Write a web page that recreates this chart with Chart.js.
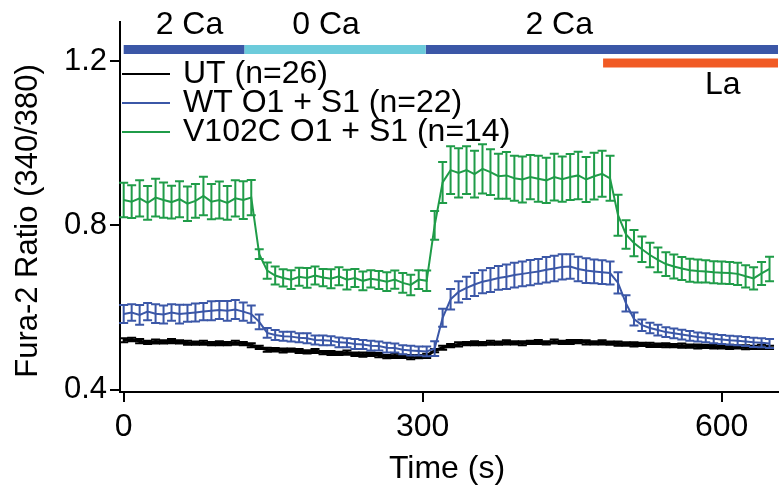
<!DOCTYPE html>
<html>
<head>
<meta charset="utf-8">
<script src="https://cdn.jsdelivr.net/npm/chart.js@4.4.1/dist/chart.umd.min.js"></script>
<style>
  html, body { margin: 0; padding: 0; background: #fff; }
</style>
</head>
<body>
<canvas id="c" width="779" height="493"></canvas>
<script>
// time points (s)
const timeS = [0,8,16,24,32,40,48,56,64,72,80,88,96,104,112,120,128,136,144,152,160,168,176,184,192,200,208,216,224,232,240,248,256,264,272,280,288,296,304,312,320,328,336,344,352,360,368,376,384,392,400,408,416,424,432,440,448,456,464,472,480,488,496,504,512,520,528,536,544,552,560,568,576,584,592,600,608,616,624,632,640,648];

const seriesNames = ['UT (n=26)', 'WT O1 + S1 (n=22)', 'V102C O1 + S1 (n=14)'];

const utMean = [0.520,0.522,0.518,0.515,0.517,0.516,0.518,0.516,0.514,0.513,0.514,0.512,0.513,0.512,0.514,0.512,0.508,0.503,0.497,
  0.497,0.495,0.496,0.494,0.492,0.494,0.490,0.489,0.488,0.490,0.486,0.485,0.486,0.484,0.480,0.482,0.481,0.479,0.480,
  0.482,0.495,0.502,0.507,
  0.510,0.512,0.513,0.512,0.514,0.513,0.515,0.514,0.513,0.515,0.516,0.514,0.517,0.515,0.516,0.517,0.515,0.514,0.515,0.513,
  0.512,0.511,0.510,0.510,0.509,0.508,0.508,0.507,0.507,0.506,0.505,0.505,0.505,0.504,0.504,0.504,0.503,0.503,0.504,0.503];
const utSem = [0.005,0.004,0.005,0.004,0.005,0.004,0.005,0.004,0.005,0.004,0.005,0.004,0.005,0.004,0.005,0.004,0.005,0.004,0.005,
  0.004,0.005,0.004,0.005,0.004,0.005,0.004,0.005,0.004,0.005,0.004,0.005,0.004,0.005,0.004,0.005,0.004,0.005,0.004,
  0.005,0.004,0.005,0.004,
  0.005,0.004,0.005,0.004,0.005,0.004,0.005,0.004,0.005,0.004,0.005,0.004,0.005,0.004,0.005,0.004,0.005,0.004,0.005,0.004,
  0.005,0.004,0.005,0.004,0.005,0.004,0.005,0.004,0.005,0.004,0.005,0.004,0.005,0.004,0.005,0.004,0.005,0.004,0.005,0.004];

const wtMean = [0.584,0.588,0.582,0.590,0.585,0.583,0.588,0.584,0.586,0.588,0.590,0.592,0.594,0.592,0.595,0.590,0.584,0.565,0.538,
  0.533,0.530,0.529,0.526,0.525,0.521,0.520,0.519,0.515,0.514,0.511,0.510,0.507,0.506,0.502,0.501,0.497,0.495,0.494,
  0.493,0.500,0.575,0.620,
  0.638,0.648,0.656,0.663,0.667,0.672,0.675,0.679,0.682,0.685,0.688,0.692,0.695,0.699,0.700,0.694,0.690,0.688,0.686,0.684,
  0.660,0.610,0.572,0.557,0.550,0.545,0.540,0.537,0.534,0.531,0.528,0.526,0.524,0.522,0.520,0.519,0.517,0.515,0.514,0.512];
const wtSem = [0.022,0.020,0.024,0.021,0.023,0.022,0.020,0.023,0.021,0.022,0.021,0.023,0.022,0.024,0.023,0.022,0.021,0.018,0.012,
  0.012,0.011,0.012,0.011,0.012,0.011,0.012,0.011,0.012,0.011,0.012,0.011,0.012,0.011,0.012,0.011,0.011,0.012,0.011,
  0.012,0.018,0.022,0.025,
  0.026,0.027,0.028,0.028,0.029,0.029,0.030,0.030,0.030,0.031,0.030,0.031,0.031,0.031,0.030,0.030,0.030,0.029,0.029,0.028,
  0.026,0.020,0.016,0.014,0.013,0.013,0.012,0.012,0.012,0.012,0.011,0.011,0.011,0.011,0.011,0.011,0.011,0.011,0.011,0.011];

const v102cMean = [0.862,0.858,0.866,0.855,0.868,0.862,0.857,0.864,0.853,0.860,0.872,0.858,0.862,0.855,0.866,0.862,0.868,0.730,0.690,
  0.678,0.672,0.668,0.675,0.672,0.678,0.673,0.670,0.676,0.668,0.672,0.665,0.670,0.667,0.663,0.668,0.660,0.655,0.668,
  0.665,0.800,0.905,0.935,
  0.928,0.935,0.925,0.938,0.930,0.920,0.922,0.915,0.912,0.918,0.914,0.910,0.918,0.913,0.918,0.922,0.912,0.920,0.926,0.915,
  0.825,0.778,0.757,0.742,0.728,0.716,0.706,0.700,0.695,0.691,0.689,0.688,0.686,0.685,0.684,0.682,0.676,0.671,0.683,0.694];
const v102cSem = [0.042,0.040,0.044,0.041,0.046,0.043,0.040,0.044,0.042,0.041,0.047,0.043,0.045,0.041,0.044,0.046,0.043,0.012,0.020,
  0.022,0.021,0.023,0.022,0.024,0.022,0.021,0.023,0.022,0.024,0.022,0.023,0.021,0.022,0.023,0.022,0.024,0.025,0.023,
  0.025,0.035,0.050,0.058,
  0.060,0.058,0.057,0.060,0.056,0.055,0.057,0.055,0.056,0.054,0.056,0.055,0.057,0.055,0.056,0.058,0.055,0.057,0.056,0.055,
  0.050,0.035,0.032,0.031,0.030,0.030,0.029,0.029,0.028,0.028,0.028,0.027,0.027,0.027,0.027,0.027,0.027,0.027,0.028,0.030];

// solution bars on top
const solutionLabels = ['2 Ca', '0 Ca', '2 Ca'];
const solutionStart = [0, 121, 303];
const solutionEnd = [121, 303, 656.5];
const solutionLabelAt = [66, 203, 437];
const solutionLevel = 1.229;
const laStart = 481, laEnd = 656.5, laLevel = 1.196, laLabelAt = 601;

const xTicks = [0, 300, 600];
const yTicks = [0.4, 0.8, 1.2];

const FONT = '"Liberation Sans", Arial, sans-serif';
const BLACK = '#000000', BLUE = '#3b57a7', GREEN = '#1f9c48', CYAN = '#6ccbdb', ORANGE = '#f15a24';
const seriesColors = [BLACK, BLUE, GREEN];

function pts(arr) { return timeS.map((t, i) => ({ x: t, y: arr[i] })); }
function bar(a, b, lvl, color) {
  return { data: [{ x: a, y: lvl }, { x: b, y: lvl }], borderColor: color, borderWidth: 9, borderCapStyle: 'butt', pointRadius: 0, tension: 0 };
}

const errorBars = {
  id: 'errorBars',
  afterDatasetDraw(chart, args) {
    const ds = chart.data.datasets[args.index];
    if (!ds.sem) return;
    const xs = chart.scales.x, ys = chart.scales.y, ctx = chart.ctx;
    ctx.save();
    ctx.strokeStyle = ds.borderColor;
    ctx.lineWidth = 2;
    ds.data.forEach((p, i) => {
      const px = xs.getPixelForValue(p.x);
      const top = ys.getPixelForValue(p.y + ds.sem[i]);
      const bot = ys.getPixelForValue(p.y - ds.sem[i]);
      ctx.beginPath();
      ctx.moveTo(px, top); ctx.lineTo(px, bot);
      ctx.moveTo(px - 4.5, top); ctx.lineTo(px + 4.5, top);
      ctx.moveTo(px - 4.5, bot); ctx.lineTo(px + 4.5, bot);
      ctx.stroke();
    });
    ctx.restore();
  }
};

const annotations = {
  id: 'annotations',
  afterDraw(chart) {
    const ctx = chart.ctx, xs = chart.scales.x, ys = chart.scales.y;
    ctx.save();
    ctx.fillStyle = '#000';
    ctx.font = '32px ' + FONT;
    ctx.textAlign = 'center';
    ctx.textBaseline = 'alphabetic';
    const barY = ys.getPixelForValue(solutionLevel);
    solutionLabels.forEach((s, i) => ctx.fillText(s, xs.getPixelForValue(solutionLabelAt[i]), barY - 15));
    ctx.fillText('La', xs.getPixelForValue(laLabelAt), ys.getPixelForValue(laLevel) + 31);

    // legend
    ctx.textAlign = 'left';
    const left = chart.chartArea.left;
    seriesNames.forEach((name, i) => {
      const ly = 74 + i * 29;
      ctx.strokeStyle = seriesColors[i];
      ctx.lineWidth = 2;
      ctx.beginPath(); ctx.moveTo(left + 2, ly); ctx.lineTo(left + 50, ly); ctx.stroke();
      ctx.fillText(name, left + 63, ly + 9);
    });

    // axis titles
    ctx.textAlign = 'center';
    ctx.fillText('Time (s)', (chart.chartArea.left + chart.chartArea.right) / 2 - 2, 478);
    ctx.translate(28, 221);
    ctx.rotate(-Math.PI / 2);
    ctx.textBaseline = 'middle';
    ctx.font = '31px ' + FONT;
    ctx.fillText('Fura-2 Ratio (340/380)', 0, 0);
    ctx.restore();
  }
};

const axisCommon = {
  grid: { drawOnChartArea: false, drawTicks: true, tickLength: 10, color: '#000', lineWidth: 2 },
  border: { display: true, color: '#000', width: 2 },
};

new Chart(document.getElementById('c'), {
  type: 'line',
  data: {
    datasets: [
      bar(solutionStart[0], solutionEnd[0], solutionLevel, BLUE),
      bar(solutionStart[1], solutionEnd[1], solutionLevel, CYAN),
      bar(solutionStart[2], solutionEnd[2], solutionLevel, BLUE),
      bar(laStart, laEnd, laLevel, ORANGE),
      { label: seriesNames[2], data: pts(v102cMean), sem: v102cSem, borderColor: GREEN, borderWidth: 2, pointRadius: 0, tension: 0 },
      { label: seriesNames[1], data: pts(wtMean), sem: wtSem, borderColor: BLUE, borderWidth: 2, pointRadius: 0, tension: 0 },
      { label: seriesNames[0], data: pts(utMean), sem: utSem, borderColor: BLACK, borderWidth: 3, pointRadius: 0, tension: 0 },
    ]
  },
  options: {
    responsive: false,
    animation: false,
    devicePixelRatio: 1,
    layout: { padding: { top: 20, right: 1, left: 0, bottom: 0 } },
    plugins: { legend: { display: false }, tooltip: { enabled: false } },
    scales: {
      x: {
        ...axisCommon,
        type: 'linear', min: -3.7, max: 656.5,
        afterBuildTicks: s => { s.ticks = xTicks.map(v => ({ value: v })); },
        afterFit: s => { s.height = 101; },
        ticks: { color: '#000', font: { family: FONT, size: 32 }, padding: 6, maxRotation: 0, autoSkip: false },
      },
      y: {
        ...axisCommon,
        min: 0.394, max: 1.297,
        afterBuildTicks: s => { s.ticks = yTicks.map(v => ({ value: v })); },
        afterFit: s => { s.width = 120; },
        ticks: { color: '#000', font: { family: FONT, size: 31 }, padding: 3, autoSkip: false, callback: v => v.toFixed(1) },
      }
    }
  },
  plugins: [errorBars, annotations]
});
</script>
</body>
</html>
